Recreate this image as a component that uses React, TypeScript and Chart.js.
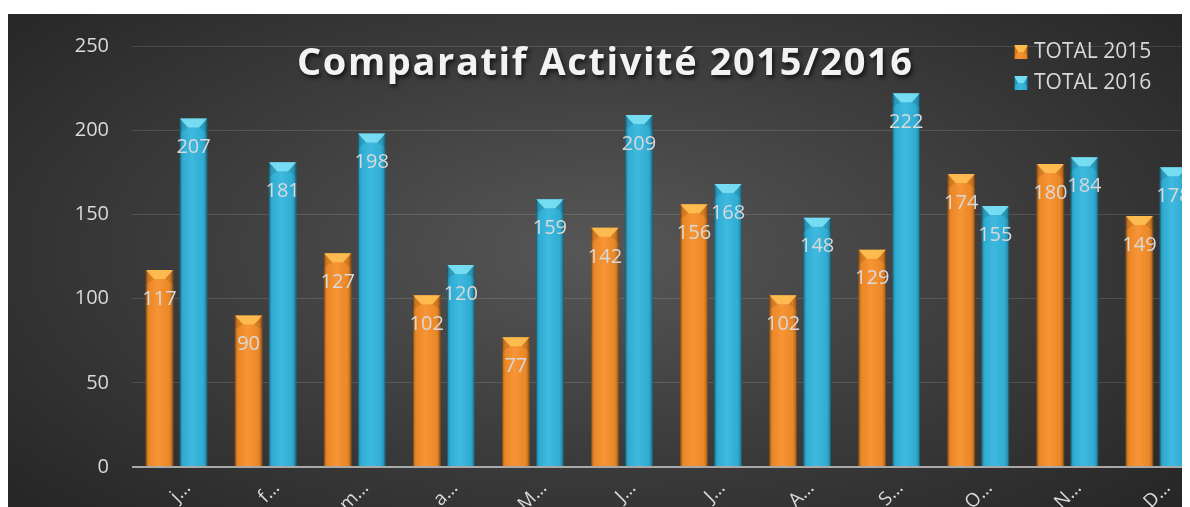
import React, { useEffect, useRef } from "react";
import { Chart, registerables } from "chart.js";

Chart.register(...registerables);

const categories = ["j…", "f…", "m…", "a…", "M…", "J…", "J…", "A…", "S…", "O…", "N…", "D…"];
const total2015 = [117, 90, 127, 102, 77, 142, 156, 102, 129, 174, 180, 149];
const total2016 = [207, 181, 198, 120, 159, 209, 168, 148, 222, 155, 184, 178];
const yTicks = [0, 50, 100, 150, 200, 250];
const seriesNames = ["TOTAL 2015", "TOTAL 2016"];
const titleText = "Comparatif Activité 2015/2016";

const ORANGE = "#f78f2a";
const BLUE = "#33b5dd";
const ORANGE_TOP = "#ffc657";
const BLUE_TOP = "#86e6f8";
const TEXT = "#d9d9d9";
const FONT = "'Open Sans', 'Noto Sans', sans-serif";

function drawBevelBox(ctx: CanvasRenderingContext2D, x0: number, x1: number, top: number, bottom: number, topColor: string) {
  const w = x1 - x0;
  const g = ctx.createLinearGradient(x0, 0, x1, 0);
  g.addColorStop(0, "rgba(0,0,0,0.28)");
  g.addColorStop(0.12, "rgba(0,0,0,0.05)");
  g.addColorStop(0.45, "rgba(255,255,255,0.06)");
  g.addColorStop(0.85, "rgba(0,0,0,0.05)");
  g.addColorStop(1, "rgba(0,0,0,0.32)");
  ctx.fillStyle = g;
  ctx.fillRect(x0, top, w, bottom - top);
  const bh = Math.min(9, (bottom - top) / 2);
  ctx.fillStyle = topColor;
  ctx.beginPath();
  ctx.moveTo(x0, top);
  ctx.lineTo(x1, top);
  ctx.lineTo(x1 - w * 0.3, top + bh);
  ctx.lineTo(x0 + w * 0.3, top + bh);
  ctx.closePath();
  ctx.globalAlpha = 0.8;
  ctx.fill();
  ctx.globalAlpha = 1;
  ctx.fillStyle = "rgba(0,0,0,0.1)";
  ctx.beginPath();
  ctx.moveTo(x0, top);
  ctx.lineTo(x0 + w * 0.3, top + bh);
  ctx.lineTo(x0, top + bh * 1.6);
  ctx.closePath();
  ctx.fill();
  ctx.beginPath();
  ctx.moveTo(x1, top);
  ctx.lineTo(x1 - w * 0.3, top + bh);
  ctx.lineTo(x1, top + bh * 1.6);
  ctx.closePath();
  ctx.fill();
  ctx.strokeStyle = "rgba(0,0,0,0.25)";
  ctx.lineWidth = 1;
  ctx.beginPath();
  ctx.moveTo(x0 + 0.5, bottom);
  ctx.lineTo(x0 + 0.5, top);
  ctx.moveTo(x1 - 0.5, top);
  ctx.lineTo(x1 - 0.5, bottom);
  ctx.stroke();
}

const decorPlugin = {
  id: "decor",
  afterDatasetsDraw(chart: any) {
    const ctx: CanvasRenderingContext2D = chart.ctx;
    ctx.save();
    chart.data.datasets.forEach((ds: any, di: number) => {
      const meta = chart.getDatasetMeta(di);
      meta.data.forEach((bar: any) => {
        const { x, y, base, width } = bar.getProps(["x", "y", "base", "width"], true);
        drawBevelBox(ctx, x - width / 2, x + width / 2, y, base, di === 0 ? ORANGE_TOP : BLUE_TOP);
      });
    });
    ctx.font = `20px ${FONT}`;
    ctx.fillStyle = TEXT;
    ctx.textAlign = "center";
    ctx.textBaseline = "middle";
    chart.data.datasets.forEach((ds: any, di: number) => {
      const meta = chart.getDatasetMeta(di);
      meta.data.forEach((bar: any, i: number) => {
        const { x, y } = bar.getProps(["x", "y"], true);
        ctx.fillText(String(ds.data[i]), x, y + 29);
      });
    });
    ctx.restore();
  },
  afterDraw(chart: any) {
    const ctx: CanvasRenderingContext2D = chart.ctx;
    ctx.save();
    ctx.font = `bold 38px ${FONT}`;
    (ctx as any).letterSpacing = "0px";
    const w0 = ctx.measureText(titleText).width;
    const n = [...titleText].length;
    const spacing = (615 - w0) / (n - 1);
    (ctx as any).letterSpacing = `${spacing}px`;
    ctx.textAlign = "left";
    ctx.textBaseline = "alphabetic";
    ctx.shadowColor = "rgba(0,0,0,0.65)";
    ctx.shadowOffsetX = 2;
    ctx.shadowOffsetY = 3;
    ctx.shadowBlur = 4;
    ctx.fillStyle = "#f2f2f2";
    ctx.fillText(titleText, 289, 61);
    ctx.restore();

    ctx.save();
    (ctx as any).letterSpacing = "0px";
    const colors = [ORANGE, BLUE];
    const tops = [ORANGE_TOP, BLUE_TOP];
    const ys = [31, 62];
    seriesNames.forEach((name, i) => {
      ctx.fillStyle = colors[i];
      ctx.fillRect(1006, ys[i], 14, 14);
      drawBevelBox(ctx, 1006, 1020, ys[i], ys[i] + 14, tops[i]);
      ctx.font = `21px ${FONT}`;
      ctx.fillStyle = TEXT;
      ctx.textAlign = "left";
      ctx.textBaseline = "alphabetic";
      ctx.fillText(name, 1026, ys[i] + 13);
    });
    ctx.restore();
  },
};

export default function App() {
  const canvasRef = useRef<HTMLCanvasElement>(null);

  useEffect(() => {
    if (!canvasRef.current) return;
    const chart = new Chart(canvasRef.current, {
      type: "bar",
      data: {
        labels: categories,
        datasets: [
          { label: seriesNames[0], data: total2015, backgroundColor: ORANGE, borderWidth: 0 },
          { label: seriesNames[1], data: total2016, backgroundColor: BLUE, borderWidth: 0 },
        ],
      },
      options: {
        animation: false,
        responsive: true,
        maintainAspectRatio: false,
        layout: { padding: { top: 32, right: 0, left: 0, bottom: 0 } },
        datasets: { bar: { categoryPercentage: 0.764, barPercentage: 0.81 } },
        plugins: {
          legend: { display: false },
          title: { display: false },
          tooltip: { enabled: false },
        },
        scales: {
          x: {
            grid: { display: false },
            border: { display: false },
            ticks: {
              color: TEXT,
              font: { size: 19, family: FONT },
              minRotation: 45,
              maxRotation: 45,
              autoSkip: false,
              labelOffset: 11,
              padding: 2,
            },
            afterFit: (scale: any) => {
              scale.height = 40;
              scale.paddingLeft = 0;
              scale.paddingRight = 0;
            },
          },
          y: {
            min: 0,
            max: 250,
            afterBuildTicks: (scale: any) => {
              scale.ticks = yTicks.map((v) => ({ value: v }));
            },
            grid: {
              drawTicks: false,
              color: (c: any) => (c.tick && c.tick.value === 0 ? "#a9a9a9" : "rgba(255,255,255,0.13)"),
              lineWidth: (c: any) => (c.tick && c.tick.value === 0 ? 2 : 1),
            },
            border: { display: false },
            ticks: {
              color: TEXT,
              font: { size: 20, family: FONT },
              padding: 23,
            },
            afterFit: (scale: any) => {
              scale.width = 124;
              scale.paddingTop = 0;
              scale.paddingBottom = 0;
            },
          },
        },
      },
      plugins: [decorPlugin],
    });
    return () => chart.destroy();
  }, []);

  return (
    <div style={{ paddingTop: 6 }}>
      <div
        style={{
          width: 1182,
          height: 493,
          overflow: "hidden",
          position: "relative",
          background: "radial-gradient(ellipse 65% 75% at 50% 48%, #575757 0%, #3e3e3e 50%, #272727 100%)",
        }}
      >
        <div style={{ position: "absolute", left: 0, top: 0, width: 1193, height: 493 }}>
          <canvas ref={canvasRef} />
        </div>
      </div>
    </div>
  );
}
